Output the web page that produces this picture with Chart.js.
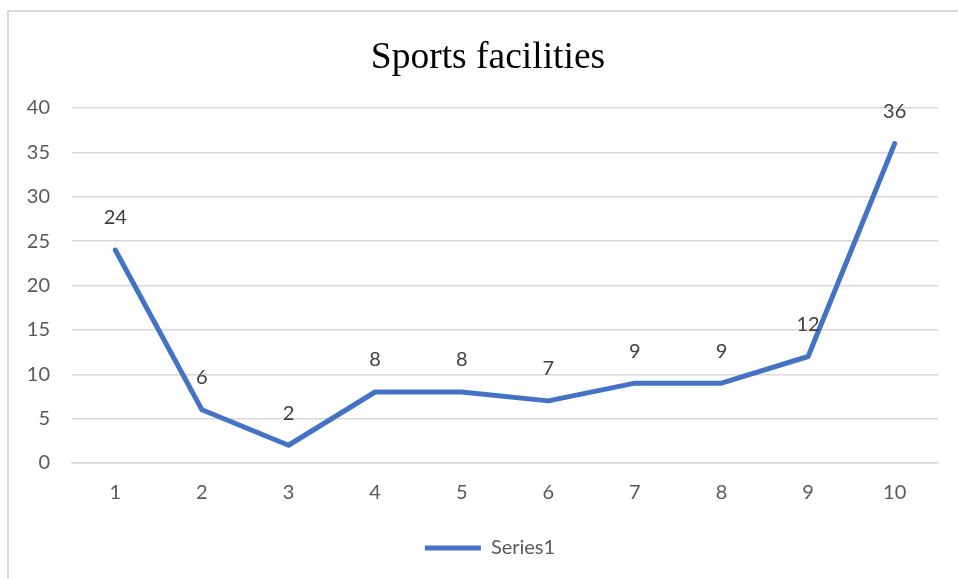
<!DOCTYPE html>
<html>
<head>
<meta charset="utf-8">
<script src="https://cdn.jsdelivr.net/npm/chart.js@4/dist/chart.umd.min.js"></script>
<style>
  html, body { margin: 0; padding: 0; background: #fff; }
  #wrap { width: 958px; height: 579px; position: relative; }
</style>
</head>
<body>
<div id="wrap"><canvas id="chart"></canvas></div>
<script>
const categories = ['1', '2', '3', '4', '5', '6', '7', '8', '9', '10'];
const series1 = [24, 6, 2, 8, 8, 7, 9, 9, 12, 36];
const yTicks = [0, 5, 10, 15, 20, 25, 30, 35, 40];

const labelFont = { family: 'Lato, "Open Sans", sans-serif', size: 20 };

// outer frame like the office chart border
const framePlugin = {
  id: 'frame',
  beforeDraw(chart) {
    const ctx = chart.ctx;
    ctx.save();
    ctx.fillStyle = '#ffffff';
    ctx.fillRect(0, 0, chart.width, chart.height);
    ctx.strokeStyle = '#d9d9d9';
    ctx.lineWidth = 2;
    ctx.strokeRect(8, 11, 1000, 1000);
    ctx.restore();
  }
};

// nudge title and legend a bit to the right, like the original
const nudgePlugin = {
  id: 'nudge',
  afterLayout(chart) {
    const t = chart.titleBlock;
    if (t) { t.left += 15; t.right += 15; }
    const l = chart.legend;
    if (l) { l.left += 17; l.right += 17; }
  }
};

// value labels above each point
const valueLabels = {
  id: 'valueLabels',
  afterDatasetsDraw(chart) {
    const ctx = chart.ctx;
    const meta = chart.getDatasetMeta(0);
    ctx.save();
    ctx.font = labelFont.size + 'px ' + labelFont.family;
    ctx.fillStyle = '#404040';
    ctx.textAlign = 'center';
    ctx.textBaseline = 'middle';
    meta.data.forEach((pt, i) => {
      ctx.fillText(series1[i], pt.x, pt.y - 32);
    });
    ctx.restore();
  }
};

new Chart(document.getElementById('chart'), {
  type: 'line',
  data: {
    labels: categories,
    datasets: [{
      label: 'Series1',
      data: series1,
      borderColor: '#4472c4',
      backgroundColor: '#4472c4',
      borderWidth: 5,
      borderCapStyle: 'round',
      borderJoinStyle: 'round',
      pointRadius: 0,
      tension: 0
    }]
  },
  options: {
    responsive: true,
    maintainAspectRatio: false,
    animation: false,
    layout: { padding: { left: 8, right: 20, top: 0, bottom: 11 } },
    plugins: {
      title: {
        display: true,
        text: 'Sports facilities',
        color: '#000000',
        font: { family: '"Liberation Serif", "Times New Roman", serif', size: 37.5, weight: 'normal' },
        padding: { top: 36, bottom: 27 }
      },
      legend: {
        position: 'bottom',
        labels: {
          usePointStyle: true,
          pointStyle: 'line',
          pointStyleWidth: 56,
          color: '#595959',
          font: labelFont,
          padding: 15
        }
      },
      tooltip: { enabled: false }
    },
    scales: {
      x: {
        offset: true,
        grid: { display: false, drawTicks: false },
        border: { display: true, color: '#d9d9d9', width: 1.5 },
        ticks: { color: '#595959', font: labelFont, padding: 18, maxRotation: 0 }
      },
      y: {
        min: 0,
        max: 40,
        afterFit(scale) { scale.width = 64; },
        afterBuildTicks(scale) { scale.ticks = yTicks.map(v => ({ value: v })); },
        grid: { color: '#d9d9d9', lineWidth: 1.5, drawTicks: false },
        border: { display: false },
        ticks: { color: '#595959', font: labelFont, padding: 22 }
      }
    }
  },
  plugins: [framePlugin, nudgePlugin, valueLabels]
});
</script>
</body>
</html>
